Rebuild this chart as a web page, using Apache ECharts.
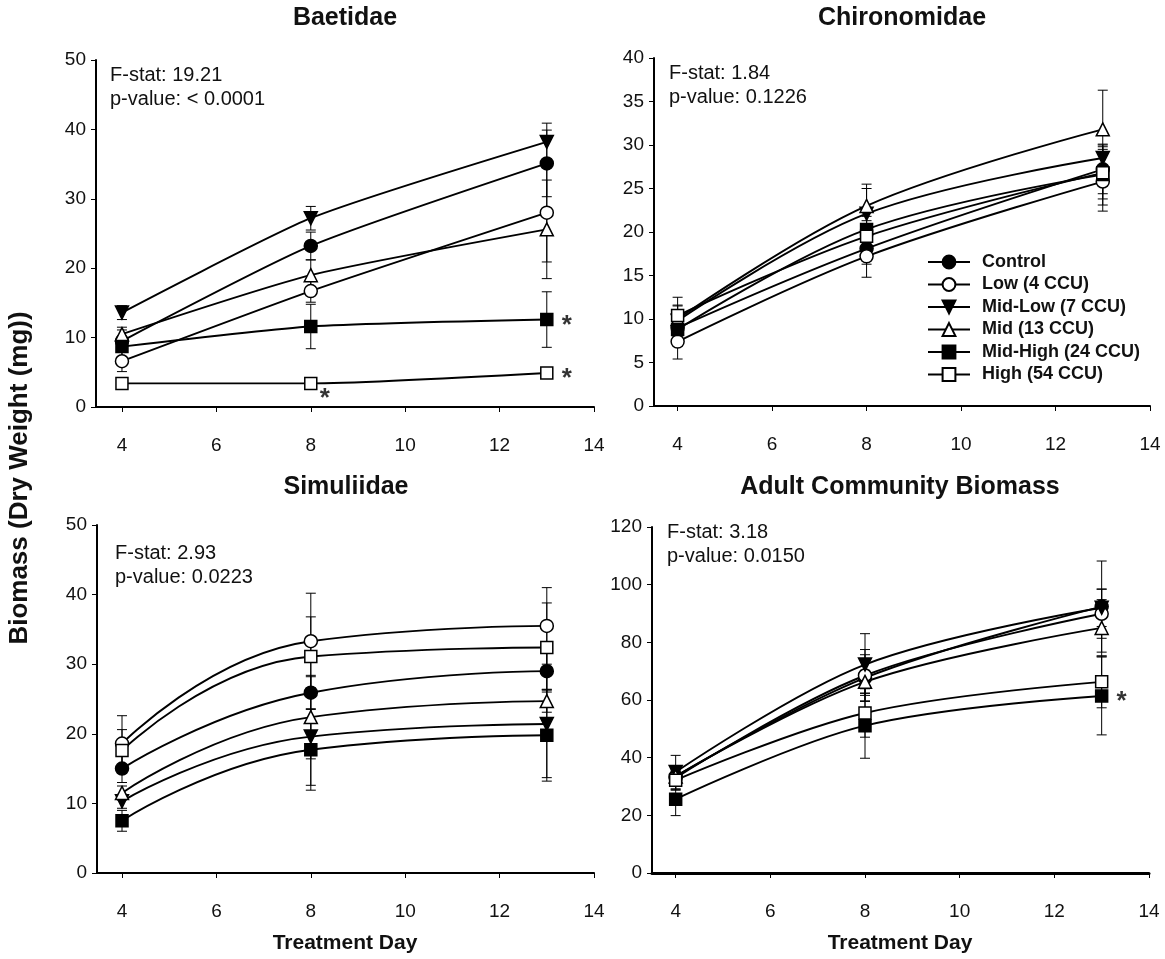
<!DOCTYPE html>
<html>
<head>
<meta charset="utf-8">
<script src="https://cdn.jsdelivr.net/npm/echarts@6/dist/echarts.min.js"></script>
<style>
html,body{margin:0;padding:0;background:#fff;}
#c{width:1165px;height:959px;}
</style>
</head>
<body>
<div id="c"></div>
<script>
// ---------- data ----------
const days = [4, 8, 13];
const xTicks = [4, 6, 8, 10, 12, 14];
const groupNames = ['Control', 'Low (4 CCU)', 'Mid-Low (7 CCU)', 'Mid (13 CCU)', 'Mid-High (24 CCU)', 'High (54 CCU)'];

// Baetidae
const baeControl = [9.5, 23.2, 35.1];
const baeLow = [6.6, 16.7, 28.0];
const baeMidLow = [13.6, 27.2, 38.2];
const baeMid = [10.5, 19.0, 25.6];
const baeMidHigh = [8.7, 11.6, 12.6];
const baeHigh = [3.4, 3.4, 4.9];
const baeControlErr = [1.6, 2.0, 4.8];
const baeLowErr = [1.5, 1.6, 7.1];
const baeMidLowErr = [1.0, 1.7, 2.7];
const baeMidErr = [1.0, 2.2, 7.1];
const baeMidHighErr = [1.5, 3.2, 4.0];
const baeHighErr = [0.5, 0.4, 0.6];
const baeStars = [[13, 12.6], [13, 4.9], [8, 3.4]];

// Chironomidae
const chiControl = [9.0, 18.1, 27.2];
const chiLow = [7.4, 17.2, 25.8];
const chiMidLow = [9.8, 22.1, 28.5];
const chiMid = [10.0, 23.0, 31.8];
const chiMidHigh = [8.8, 20.3, 26.6];
const chiHigh = [10.4, 19.5, 26.8];
const chiControlErr = [1.5, 1.8, 2.8];
const chiLowErr = [2.0, 2.4, 3.4];
const chiMidLowErr = [1.8, 2.9, 1.0];
const chiMidErr = [1.5, 2.5, 4.5];
const chiMidHighErr = [1.5, 1.5, 3.5];
const chiHighErr = [2.1, 1.8, 3.0];

// Simuliidae
const simControl = [15.0, 25.9, 29.0];
const simLow = [18.6, 33.3, 35.5];
const simMidLow = [10.3, 19.6, 21.4];
const simMid = [11.5, 22.4, 24.7];
const simMidHigh = [7.5, 17.7, 19.8];
const simHigh = [17.6, 31.1, 32.4];
const simControlErr = [2.0, 2.3, 2.7];
const simLowErr = [4.0, 6.9, 5.5];
const simMidLowErr = [1.0, 7.0, 7.7];
const simMidErr = [1.0, 6.0, 1.6];
const simMidHighErr = [1.5, 5.8, 6.6];
const simHighErr = [3.0, 5.7, 6.4];

// Adult Community Biomass
const adControl = [33.5, 67.7, 92.4];
const adLow = [33.0, 68.5, 89.9];
const adMidLow = [35.0, 72.3, 92.0];
const adMid = [33.5, 66.3, 85.0];
const adMidHigh = [25.6, 51.1, 61.4];
const adHigh = [32.2, 55.5, 66.3];
const adControlErr = [3.0, 8.0, 15.8];
const adLowErr = [4.0, 9.0, 8.5];
const adMidLowErr = [5.8, 10.7, 6.5];
const adMidErr = [3.0, 4.0, 9.8];
const adMidHighErr = [5.7, 11.3, 13.5];
const adHighErr = [3.5, 8.4, 9.0];
const adStars = [[13, 61.4]];

const panelTitles = ['Baetidae', 'Chironomidae', 'Simuliidae', 'Adult Community Biomass'];
const fStats = ['F-stat: 19.21', 'F-stat: 1.84', 'F-stat: 2.93', 'F-stat: 3.18'];
const pValues = ['p-value: < 0.0001', 'p-value: 0.1226', 'p-value: 0.0223', 'p-value: 0.0150'];
const yMax = [50, 40, 50, 120];
const yStep = [10, 5, 10, 20];

// ---------- styling ----------
const FONT = 'Liberation Sans, Arial, sans-serif';
const symbols = [
  {symbol: 'circle', fill: '#000', rotate: 0, size: 13},
  {symbol: 'circle', fill: '#fff', rotate: 0, size: 13},
  {symbol: 'triangle', fill: '#000', rotate: 180, size: 13},
  {symbol: 'triangle', fill: '#fff', rotate: 0, size: 13},
  {symbol: 'rect', fill: '#000', rotate: 0, size: 12},
  {symbol: 'rect', fill: '#fff', rotate: 0, size: 12}
];

const panels = [
  {vals: [baeControl, baeLow, baeMidLow, baeMid, baeMidHigh, baeHigh],
   errs: [baeControlErr, baeLowErr, baeMidLowErr, baeMidErr, baeMidHighErr, baeHighErr],
   stars: baeStars, smooth: 0.2},
  {vals: [chiControl, chiLow, chiMidLow, chiMid, chiMidHigh, chiHigh],
   errs: [chiControlErr, chiLowErr, chiMidLowErr, chiMidErr, chiMidHighErr, chiHighErr],
   stars: [], smooth: 0.35},
  {vals: [simControl, simLow, simMidLow, simMid, simMidHigh, simHigh],
   errs: [simControlErr, simLowErr, simMidLowErr, simMidErr, simMidHighErr, simHighErr],
   stars: [], smooth: 0.5},
  {vals: [adControl, adLow, adMidLow, adMid, adMidHigh, adHigh],
   errs: [adControlErr, adLowErr, adMidLowErr, adMidErr, adMidHighErr, adHighErr],
   stars: adStars, smooth: 0.35}
];

const grids = [
  {left: 96, top: 60, width: 498, height: 347},
  {left: 654, top: 58, width: 496, height: 348},
  {left: 97, top: 525, width: 497, height: 348},
  {left: 652, top: 527, width: 497, height: 346}
];
const xMins = [3.45, 3.5, 3.47, 3.5];

const xAxes = grids.map((g, i) => ({
  type: 'value', gridIndex: i, min: xMins[i], max: 14,
  axisLine: {show: true, onZero: false, lineStyle: {color: '#000', width: i === 3 ? 3 : 2}},
  axisTick: {show: true, customValues: xTicks, length: 5, lineStyle: {color: '#000', width: 1}},
  axisLabel: {customValues: xTicks, color: '#111', fontSize: 19, fontFamily: FONT, margin: 29},
  splitLine: {show: false}
}));
const yAxes = grids.map((g, i) => ({
  type: 'value', gridIndex: i, min: 0, max: yMax[i], interval: yStep[i],
  axisLine: {show: true, onZero: false, lineStyle: {color: '#000', width: 2}},
  axisTick: {show: true, length: 5, lineStyle: {color: '#000', width: 1}},
  axisLabel: {color: '#111', fontSize: 19, fontFamily: FONT, margin: 10},
  splitLine: {show: false}
}));

function renderErr(params, api) {
  const x = api.value(0), lo = api.value(1), hi = api.value(2);
  const p1 = api.coord([x, hi]);
  const p2 = api.coord([x, lo]);
  const w = 5;
  const st = {stroke: '#000', lineWidth: 1};
  return {
    type: 'group',
    children: [
      {type: 'line', shape: {x1: p1[0], y1: p1[1], x2: p2[0], y2: p2[1]}, style: st},
      {type: 'line', shape: {x1: p1[0] - w, y1: p1[1], x2: p1[0] + w, y2: p1[1]}, style: st},
      {type: 'line', shape: {x1: p2[0] - w, y1: p2[1], x2: p2[0] + w, y2: p2[1]}, style: st}
    ]
  };
}

const series = [];
panels.forEach((p, pi) => {
  const errData = [];
  p.vals.forEach((v, si) => {
    v.forEach((y, k) => {
      errData.push([days[k], y - p.errs[si][k], y + p.errs[si][k]]);
    });
  });
  series.push({
    type: 'custom', xAxisIndex: pi, yAxisIndex: pi, renderItem: renderErr,
    data: errData, z: 1, silent: true,
    encode: {x: 0, y: [1, 2]}
  });
  p.vals.forEach((v, si) => {
    const s = symbols[si];
    series.push({
      name: groupNames[si], type: 'line', xAxisIndex: pi, yAxisIndex: pi,
      data: v.map((y, k) => [days[k], y]),
      smooth: p.smooth,
      symbol: s.symbol, symbolSize: s.size, symbolRotate: s.rotate,
      showSymbol: true,
      lineStyle: {color: '#000', width: 1.9},
      itemStyle: {color: s.fill, borderColor: '#000', borderWidth: 1.5},
      z: 3 + si
    });
  });
  if (p.stars.length) {
    series.push({
      type: 'scatter', xAxisIndex: pi, yAxisIndex: pi,
      data: p.stars.map((d, k) => ({
        value: d,
        label: {offset: (pi === 0 && k === 2) ? [14, 15] : [20, 6]}
      })),
      symbol: 'circle', symbolSize: 2, itemStyle: {color: 'rgba(0,0,0,0)'}, silent: true, z: 10,
      label: {show: true, formatter: '*', color: '#000', fontSize: 26, fontWeight: 'bold', fontFamily: FONT, position: 'inside'}
    });
  }
});

const titles = [];
const titleCenters = [345, 902, 346, 900];
const titleMids = [18, 18, 487, 487];
panelTitles.forEach((t, i) => {
  titles.push({text: t, left: titleCenters[i], top: titleMids[i] - 13, textAlign: 'center',
    textStyle: {fontSize: 25, fontWeight: 'bold', color: '#111', fontFamily: FONT, lineHeight: 26}, padding: 0});
});
const statPos = [[110, 63], [669, 61], [115, 541], [667, 520]];
fStats.forEach((t, i) => {
  titles.push({text: t + '\n' + pValues[i], left: statPos[i][0], top: statPos[i][1], padding: 0,
    textStyle: {fontSize: 20, fontWeight: 'normal', color: '#111', fontFamily: FONT, lineHeight: 24}});
});
titles.push({text: 'Treatment Day', left: 345, top: 932, textAlign: 'center', padding: 0,
  textStyle: {fontSize: 21, fontWeight: 'bold', color: '#111', fontFamily: FONT, lineHeight: 22}});
titles.push({text: 'Treatment Day', left: 900, top: 932, textAlign: 'center', padding: 0,
  textStyle: {fontSize: 21, fontWeight: 'bold', color: '#111', fontFamily: FONT, lineHeight: 22}});

const chart = echarts.init(document.getElementById('c'), null, {renderer: 'canvas'});
chart.setOption({
  animation: false,
  backgroundColor: '#fff',
  title: titles,
  graphic: [{
    type: 'text', rotation: Math.PI / 2, x: 7, y: 478,
    style: {text: 'Biomass (Dry Weight (mg))', font: 'bold 26px ' + FONT, fill: '#111',
      align: 'center', verticalAlign: 'top'}
  }],
  legend: {
    data: groupNames, orient: 'vertical', left: 927, top: 253, padding: 0,
    itemWidth: 42, itemHeight: 16, itemGap: 4.5,
    textStyle: {fontSize: 18, fontWeight: 'bold', color: '#111', fontFamily: FONT, lineHeight: 18, padding: [0, 0, 0, 7]},
    selectedMode: false
  },
  grid: grids,
  xAxis: xAxes,
  yAxis: yAxes,
  series: series
});
</script>
</body>
</html>
